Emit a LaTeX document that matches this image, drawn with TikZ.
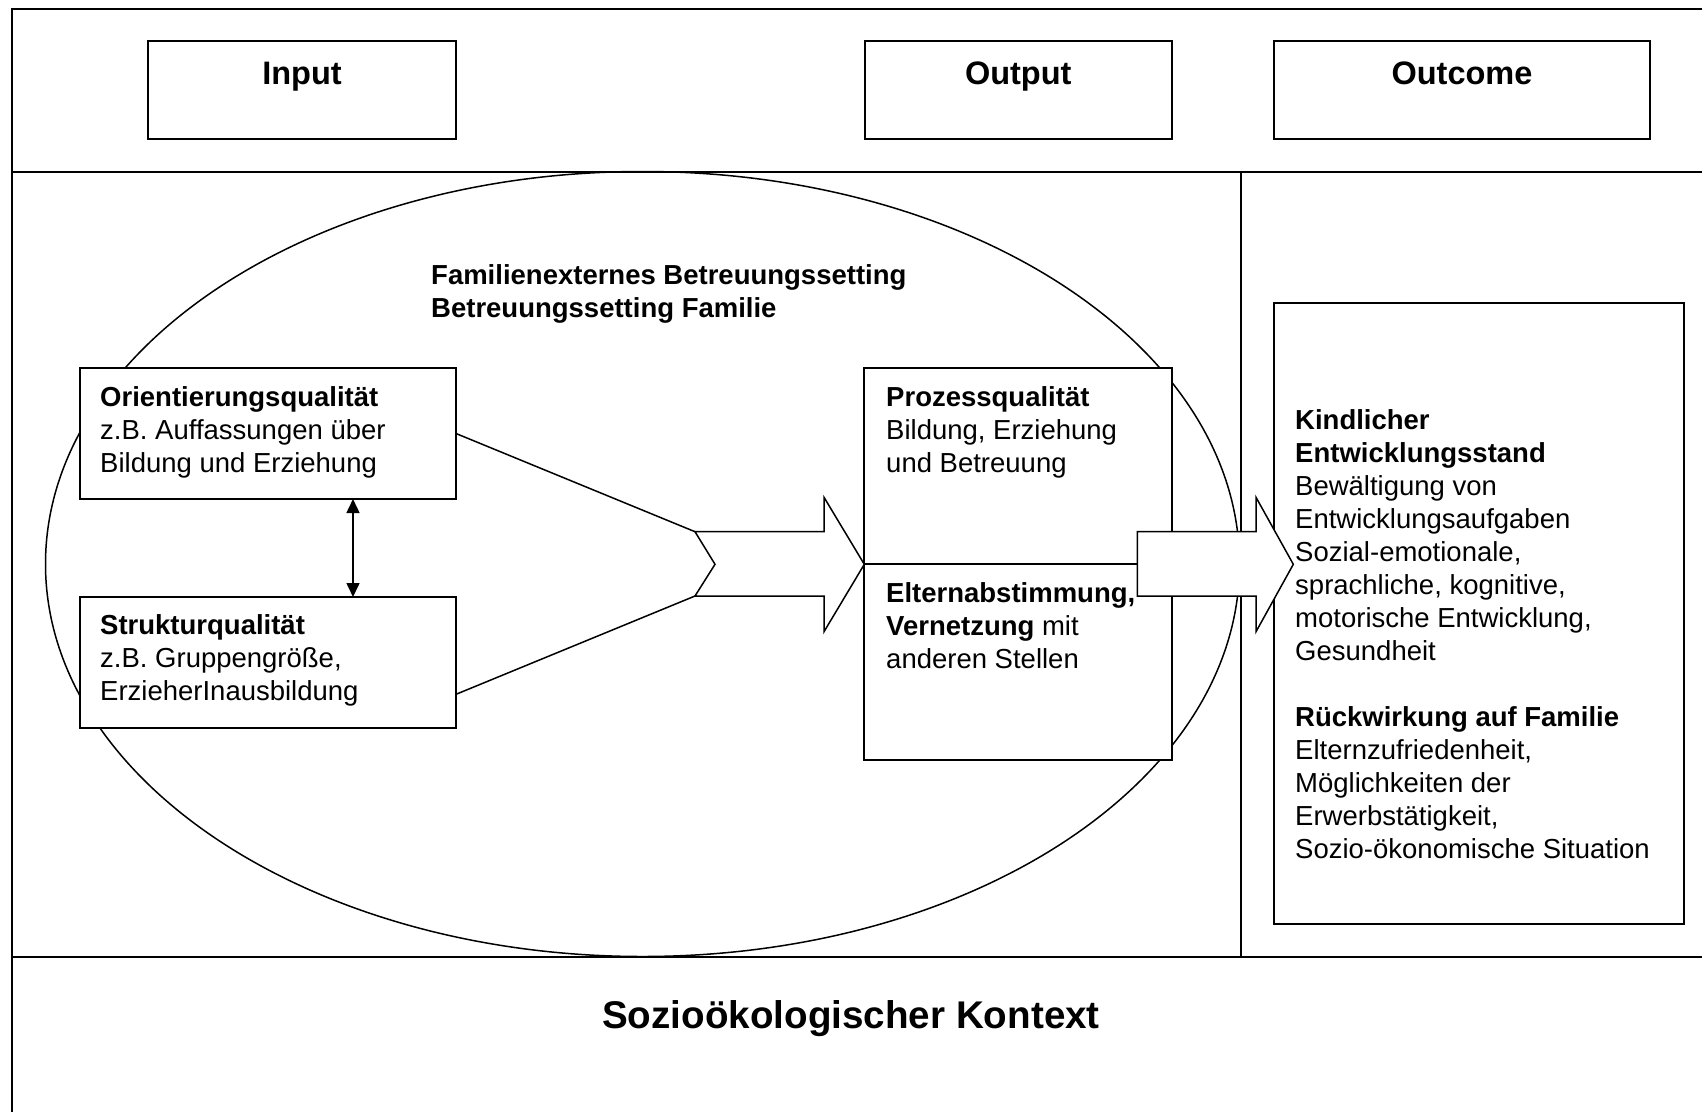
\documentclass[tikz,border=0pt]{standalone}
\usepackage{fontspec}
\setmainfont{Liberation Sans}
\usepackage{tikz}
\usetikzlibrary{arrows.meta,shapes.geometric}

\newcommand\boxfont{\fontsize{27.5}{33.05}\selectfont}
\newcommand\hdrfont{\fontsize{32.5}{39}\selectfont\bfseries}
\newcommand\ctxfont{\fontsize{38.6}{46}\selectfont\bfseries}

\begin{document}
\begin{tikzpicture}[x=1pt,y=-1pt,
  frame/.style={line width=2pt},
  thinline/.style={line width=1.5pt},
  box/.style={draw,line width=2pt,fill=white,anchor=north west,inner sep=0pt,outer sep=0pt},
  txt/.style={anchor=base west,inner sep=0pt,align=left,font=\boxfont},
  hdr/.style={anchor=base,inner sep=0pt,font=\hdrfont},
  blockarrow/.style={draw,line width=1.5pt,fill=white,line join=miter}]
\useasboundingbox (0,0) rectangle (1702,1112);

% Frame and columns
\draw[frame] (1702,8.7) -- (12,8.7) -- (12,1112);
\draw[frame] (12,171.5) -- (1702,171.5);
\draw[frame] (12,956.5) -- (1702,956.5);
\draw[thinline] (1241,171.5) -- (1241,956.5);

% Header boxes
\node[box,minimum width=308,minimum height=98] (input) at (148,41) {};
\node[box,minimum width=307.5,minimum height=98] (output) at (864.5,41) {};
\node[box,minimum width=376,minimum height=98] (outcome) at (1274,41) {};
\node[hdr] (input-t) at ([yshift=-43.3pt]input.north) {Input};
\node[hdr] (output-t) at ([yshift=-43.3pt]output.north) {Output};
\node[hdr] (outcome-t) at ([yshift=-43.3pt]outcome.north) {Outcome};

% Setting (base = last line)
\node[draw,thinline,ellipse,inner sep=0pt,outer sep=0pt,
  minimum width=1194,minimum height=785] (setting) at (642.5,564) {};
\node[txt,font=\boxfont\bfseries] (setting-t) at (431,317.5)
  {Familienexternes Betreuungssetting\\Betreuungssetting Familie};

% Input side
\node[box,minimum width=376,minimum height=131] (orient) at (80,368) {};
\node[box,minimum width=376,minimum height=131] (struktur) at (80,597) {};
\node[txt] (orient-t) at ([shift={(20,104.1)}]orient.north west)
  {\textbf{Orientierungsqualität}\\z.B. Auffassungen über\\Bildung und Erziehung};
\node[txt] (struktur-t) at ([shift={(20,103.6)}]struktur.north west)
  {\textbf{Strukturqualität}\\z.B. Gruppengröße,\\ErzieherInausbildung};
\draw[thinline,{Triangle[length=14pt,width=13pt]}-{Triangle[length=14pt,width=13pt]}]
  ([xshift=85pt]orient.south) -- ([xshift=85pt]struktur.north);

% Output side
\node[box,minimum width=308,minimum height=196.3] (prozess) at (864.3,368) {};
\node[box,minimum width=308,minimum height=195.7] (eltern) at (864.3,564.3) {};
\node[txt] (prozess-t) at ([shift={(21.7,104.1)}]prozess.north west)
  {\textbf{Prozessqualität}\\Bildung, Erziehung\\und Betreuung};
\node[txt] (eltern-t) at ([shift={(21.7,104.4)}]eltern.north west)
  {\textbf{Elternabstimmung,}\\\textbf{Vernetzung} mit\\anderen Stellen};

% Outcome side
\node[box,minimum width=410,minimum height=621.5] (result) at (1274,302.5) {};
\node[txt] (result-t) at ([shift={(21,556.2)}]result.north west)
  {\textbf{Kindlicher}\\\textbf{Entwicklungsstand}\\Bewältigung von\\Entwicklungsaufgaben\\
   Sozial-emotionale,\\sprachliche, kognitive,\\motorische Entwicklung,\\Gesundheit\\[33.05pt]
   \textbf{Rückwirkung auf Familie}\\Elternzufriedenheit,\\Möglichkeiten der\\
   Erwerbstätigkeit,\\Sozio-ökonomische Situation};

% Arrows
\coordinate (a1-top) at (695,531.7);
\coordinate (a1-bot) at (695,596);
\coordinate (s-out) at (456,694.3);
\draw[thinline] (orient.east) -- (a1-top);
\draw[thinline] (s-out) -- (a1-bot);
\draw[blockarrow] (a1-top) -- (824,531.7) -- (824,497.3) -- (prozess.south west)
  -- (824,631.7) -- (824,596) -- (a1-bot) -- (715,564.3) -- cycle;
\draw[blockarrow] (1137.3,531.7) -- (1256,531.7) -- (1256,497.3) -- (1293.3,564.3)
  -- (1256,631.7) -- (1256,596) -- (1137.3,596) -- cycle;

% Context
\node[anchor=base,inner sep=0pt,font=\ctxfont] (context) at (851,1028.8)
  {Sozioökologischer Kontext};
\end{tikzpicture}
\end{document}
